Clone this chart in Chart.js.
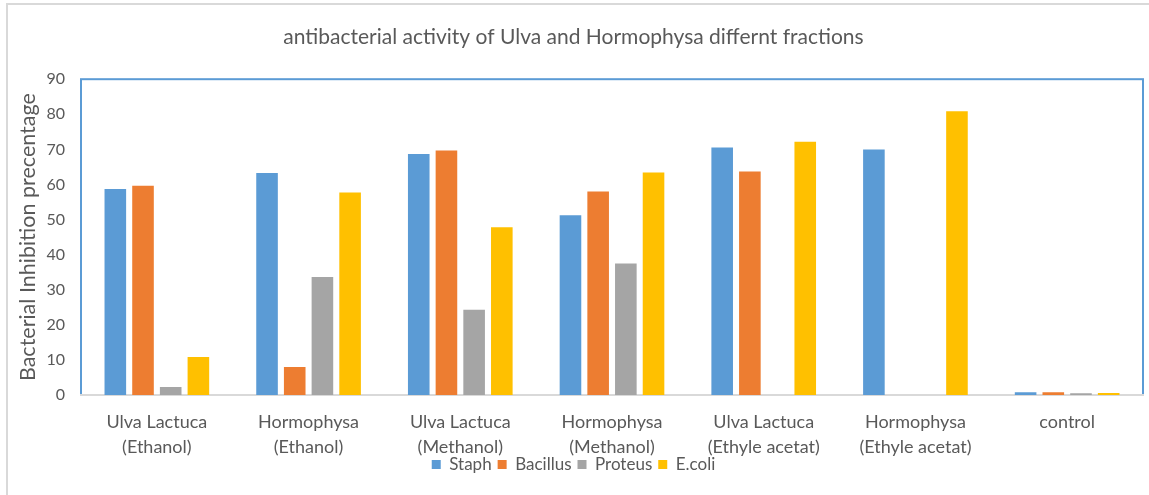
<!DOCTYPE html>
<html>
<head>
<meta charset="utf-8">
<script src="https://cdn.jsdelivr.net/npm/chart.js@4.4.1/dist/chart.umd.min.js"></script>
<style>
  html, body { margin: 0; padding: 0; background: #fff; }
  #wrap { position: relative; width: 1149px; height: 495px; overflow: hidden; }
  /* bordure grise du cadre du graphique (coupée à droite et en bas) */
  #frame { position: absolute; left: 6px; top: 3px; width: 1200px; height: 600px;
           border: 2px solid #d9d9d9; box-sizing: border-box; }
  #chart { position: absolute; left: 0; top: 0; }
</style>
</head>
<body>
<div id="wrap">
  <div id="frame"></div>
  <canvas id="chart" width="1149" height="495"></canvas>
</div>
<script>
// Catégories (deux lignes par étiquette)
const categories = [
  ["Ulva Lactuca", "(Ethanol)"],
  ["Hormophysa", "(Ethanol)"],
  ["Ulva Lactuca", "(Methanol)"],
  ["Hormophysa", "(Methanol)"],
  ["Ulva Lactuca", "(Ethyle acetat)"],
  ["Hormophysa", "(Ethyle acetat)"],
  ["control"]
];

// Valeurs
const staph    = [58.7, 63.3, 68.7, 51.2, 70.5, 70.0, 0.8];
const bacillus = [59.6,  8.0, 69.7, 58.0, 63.7,  0.0, 0.8];
const proteus  = [ 2.3, 33.6, 24.3, 37.5,  0.0,  0.0, 0.5];
const ecoli    = [10.8, 57.7, 47.8, 63.4, 72.2, 80.9, 0.6];

const yTicks = [0, 10, 20, 30, 40, 50, 60, 70, 80, 90];

const textColor = "#595959";
const fontFamily = "Lato, 'Noto Sans', sans-serif";

// Cadre bleu autour de la zone de tracé
const plotBorder = {
  id: "plotBorder",
  beforeDraw(chart) {
    const { ctx, chartArea: a } = chart;
    ctx.save();
    ctx.strokeStyle = "#5b9bd5";
    ctx.lineWidth = 2;
    ctx.strokeRect(a.left, a.top, a.right - a.left, a.bottom - a.top);
    ctx.restore();
  }
};

// La légende chevauche un peu les étiquettes de l'axe x, comme dans Excel
const legendShift = {
  id: "legendShift",
  afterLayout(chart) {
    const lg = chart.legend;
    if (!lg) return;
    lg.top -= 11;
    lg.bottom -= 11;
  }
};

new Chart(document.getElementById("chart").getContext("2d"), {
  type: "bar",
  data: {
    labels: categories,
    datasets: [
      { label: "Staph", data: staph, backgroundColor: "#5b9bd5" },
      { label: "Bacillus", data: bacillus, backgroundColor: "#ed7d31" },
      { label: "Proteus", data: proteus, backgroundColor: "#a5a5a5" },
      { label: "E.coli", data: ecoli, backgroundColor: "#ffc000" }
    ]
  },
  options: {
    responsive: false,
    animation: false,
    devicePixelRatio: 1,
    categoryPercentage: 0.73,
    barPercentage: 0.78,
    layout: { padding: { left: 4, right: 6, top: 0, bottom: 1 } },
    scales: {
      x: {
        grid: { display: false, drawTicks: false },
        border: { display: true, color: "#d9d9d9", width: 2 },
        ticks: {
          color: textColor,
          font: { family: fontFamily, size: 18, lineHeight: 1.39 },
          padding: 15,
          maxRotation: 0,
          autoSkip: false
        },
        afterFit(scale) { scale.height = 66; }
      },
      y: {
        min: 0,
        max: 90,
        afterBuildTicks(scale) { scale.ticks = yTicks.map(v => ({ value: v })); },
        grid: { display: false, drawTicks: false },
        border: { display: false },
        ticks: {
          color: textColor,
          font: { family: fontFamily, size: 16 },
          padding: 16
        },
        title: {
          display: true,
          text: "Bacterial Inhibition precentage",
          color: textColor,
          font: { family: fontFamily, size: 21.5 },
          padding: { top: 11, bottom: 0 }
        },
        afterFit(scale) { scale.width = 77; }
      }
    },
    plugins: {
      title: {
        display: true,
        text: "antibacterial activity of Ulva and Hormophysa differnt fractions",
        color: textColor,
        font: { family: fontFamily, size: 21, weight: "normal" },
        padding: { top: 25, bottom: 29 }
      },
      legend: {
        position: "bottom",
        labels: {
          color: textColor,
          font: { family: fontFamily, size: 17 },
          boxWidth: 9,
          boxHeight: 9,
          padding: 6
        }
      },
      tooltip: { enabled: false }
    }
  },
  plugins: [plotBorder, legendShift]
});
</script>
</body>
</html>
